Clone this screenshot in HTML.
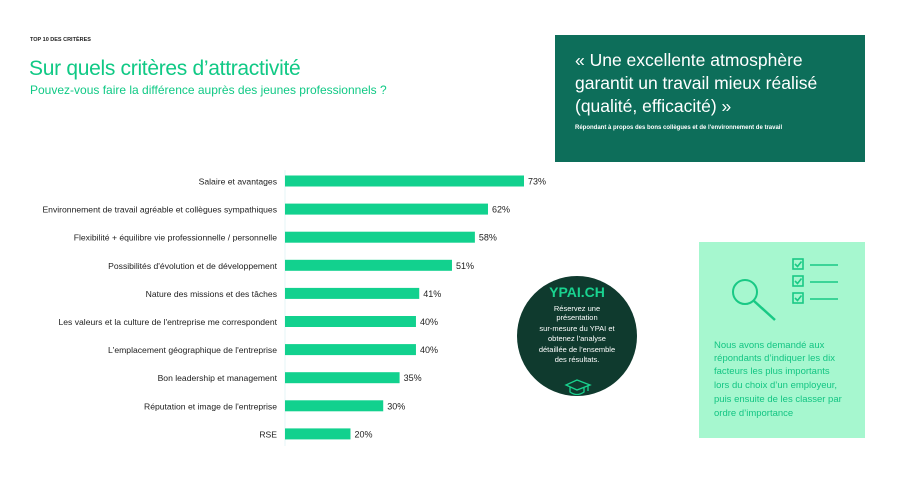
<!DOCTYPE html>
<html><head><meta charset="utf-8"><style>
body{margin:0;width:908px;height:500px;background:#fff;font-family:"Liberation Sans","DejaVu Sans",sans-serif;position:relative;overflow:hidden}
.abs{position:absolute}
</style></head><body>
<div class="abs" style="left:30px;top:37px;font-size:5.5px;color:#222;font-weight:bold">TOP 10 DES CRITÈRES</div>
<div class="abs" style="left:29px;top:57px;font-size:21px;color:#10c985;letter-spacing:-0.3px">Sur quels critères d’attractivité</div>
<div class="abs" style="left:30px;top:83px;font-size:12px;color:#10c985">Pouvez-vous faire la différence auprès des jeunes professionnels ?</div>

<div class="abs" style="left:555px;top:35px;width:310px;height:127px;background:#0d6e5a;color:#fff">
  <div style="position:absolute;left:20px;top:14px;font-size:17.5px;line-height:23px">« Une excellente atmosphère<br>garantit un travail mieux réalisé<br>(qualité, efficacité) »</div>
  <div style="position:absolute;left:20px;top:90px;font-size:6px;font-weight:bold">Répondant à propos des bons collègues et de l'environnement de travail</div>
</div>

<svg class="abs" style="left:0;top:0" width="908" height="500">
  <line x1="285" y1="170" x2="285" y2="446" stroke="#e6f6f7" stroke-width="1"/>
  <g id="bars"></g>
  <g>
    <circle cx="577" cy="336" r="60" fill="#0f3a2e"/>
    <text x="577" y="297" text-anchor="middle" font-size="14" font-weight="bold" fill="#19d38f" font-family="Liberation Sans">YPAI.CH</text>
    <g font-size="7.5" fill="#fff" text-anchor="middle" font-family="Liberation Sans">
      <text x="577" y="311">Réservez une</text>
      <text x="577" y="320">présentation</text>
      <text x="577" y="331">sur-mesure du YPAI et</text>
      <text x="577" y="341">obtenez l’analyse</text>
      <text x="577" y="352">détaillée de l’ensemble</text>
      <text x="577" y="362">des résultats.</text>
    </g>
    <path d="M566 385 L577 380 L590 385 L577 390 Z M570 387 v5 q7 5 14 0 v-5 M588 385 v6" fill="none" stroke="#19d38f" stroke-width="1.3"/>
  </g>
  <g>
    <rect x="699" y="242" width="166" height="196" fill="#a6f7cf"/>
    <circle cx="745" cy="292" r="12" fill="none" stroke="#19c985" stroke-width="2"/>
    <line x1="754" y1="301" x2="775" y2="320" stroke="#19c985" stroke-width="2.5"/>
    <g fill="none" stroke="#19c985" stroke-width="1.6">
      <rect x="793" y="259" width="10" height="10"/><rect x="793" y="276" width="10" height="10"/><rect x="793" y="293" width="10" height="10"/>
      <path d="M795 264 l2.5 2.5 l4 -5 M795 281 l2.5 2.5 l4 -5 M795 298 l2.5 2.5 l4 -5"/>
      <line x1="810" y1="265" x2="838" y2="265"/><line x1="810" y1="282" x2="838" y2="282"/><line x1="810" y1="299" x2="838" y2="299"/>
    </g>
    <g font-size="9.5" fill="#13c583" font-family="Liberation Sans">
      <text x="714" y="348">Nous avons demandé aux</text>
      <text x="714" y="361">répondants d’indiquer les dix</text>
      <text x="714" y="374">facteurs les plus importants</text>
      <text x="714" y="388">lors du choix d’un employeur,</text>
      <text x="714" y="402">puis ensuite de les classer par</text>
      <text x="714" y="416">ordre d’importance</text>
    </g>
  </g>
</svg>
<script>
const categories=["Salaire et avantages","Environnement de travail agréable et collègues sympathiques","Flexibilité + équilibre vie professionnelle / personnelle","Possibilités d'évolution et de développement","Nature des missions et des tâches","Les valeurs et la culture de l'entreprise me correspondent","L'emplacement géographique de l'entreprise","Bon leadership et management","Réputation et image de l'entreprise","RSE"];
const values=[73,62,58,51,41,40,40,35,30,20];
const ns="http://www.w3.org/2000/svg";
const g=document.getElementById('bars');
const x0=285,scale=239/73,y0=181,step=28.1;
const xs=v=>v*scale;
const ys=i=>y0+i*step;
categories.forEach((c,i)=>{
  const y=ys(i);
  const r=document.createElementNS(ns,'rect');
  r.setAttribute('x',x0);r.setAttribute('y',y-5.5);r.setAttribute('width',xs(values[i]));r.setAttribute('height',11);r.setAttribute('fill','#12d18e');
  
  
  g.appendChild(r);
  const t=document.createElementNS(ns,'text');
  t.setAttribute('x',277);t.setAttribute('y',y+3.5);t.setAttribute('text-anchor','end');t.setAttribute('font-size','8.6');t.setAttribute('fill','#222');
  t.textContent=c;
  
  
  g.appendChild(t);
  const v=document.createElementNS(ns,'text');
  v.setAttribute('x',x0+xs(values[i])+4);v.setAttribute('y',y+3.5);v.setAttribute('font-size','9');v.setAttribute('fill','#222');
  v.textContent=values[i]+'%';
  
  
  g.appendChild(v);
});
</script>
</body></html>
